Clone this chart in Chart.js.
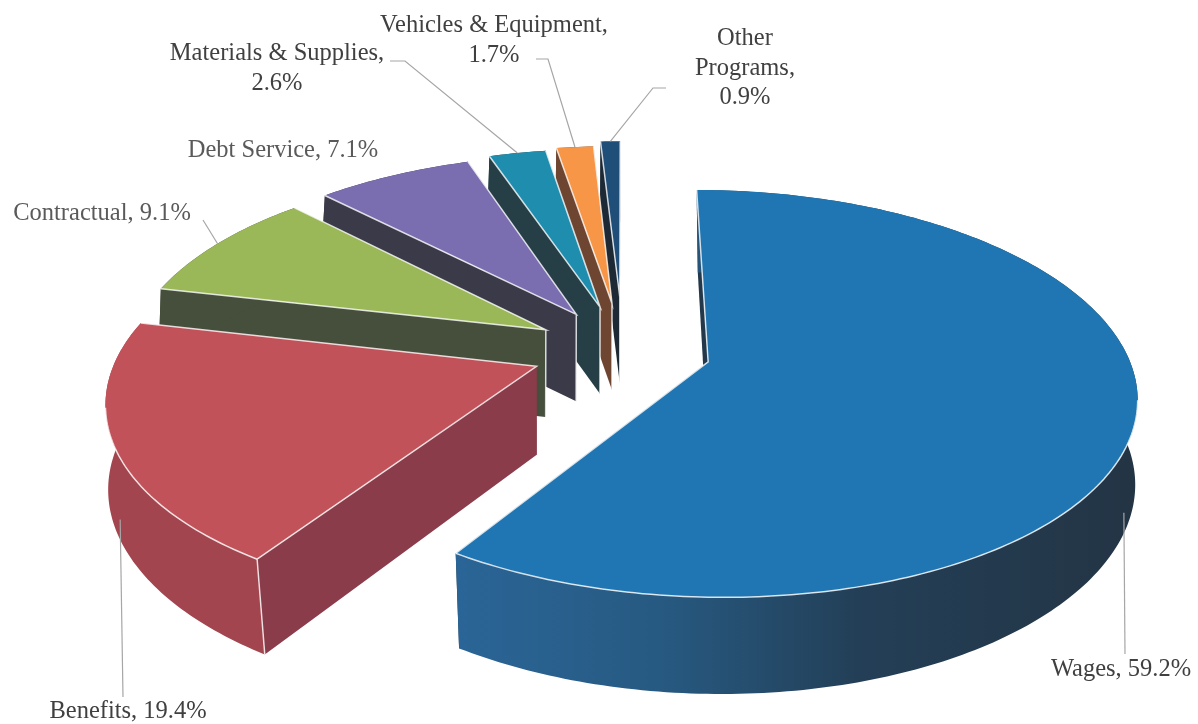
<!DOCTYPE html>
<html>
<head>
<meta charset="utf-8">
<title>Expenses by category</title>
<script src="https://cdn.jsdelivr.net/npm/chart.js@4"></script>
<style>
    html, body { margin: 0; padding: 0; background: #fff; }
    #wrap { width: 1198px; height: 724px; }
</style>
</head>
<body>
<div id="wrap"><canvas id="expenseChart" width="1198" height="724"></canvas></div>
<script>
// Chart data
const categories = ['Wages', 'Benefits', 'Contractual', 'Debt Service', 'Materials & Supplies', 'Vehicles & Equipment', 'Other Programs'];
const percents = [59.2, 19.4, 9.1, 7.1, 2.6, 1.7, 0.9];
const explode = [88, 92, 90, 92, 98, 104, 118];

// Face colours
const topColors = ['#2076b2', '#c2525a', '#9ab858', '#7a6db0', '#1f8dad', '#f79646', '#1f4e79'];
const wallColors = ['#23384a', '#8a3c4a', '#454f3c', '#3a3a48', '#263f47', '#6e4530', '#1d2a35'];
const rimColors = [null, '#a3454f', '#454f3c', '#3a3a48', '#263f47', '#6e4530', '#1d2a35'];

// Perspective settings
const tilt = 0.4665;
const persp = 0.155;
const depth = 88;

// Label text and where it sits
const labelLayout = [
    { lines: ['Wages, 59.2%'], x: 1121, y: 670, color: '#404040', leader: [[1125, 654]], along: 0.53, drop: 0.75 },
    { lines: ['Benefits, 19.4%'], x: 128, y: 712, color: '#404040', leader: [[123, 697]], along: 0.48, drop: 0.75 },
    { lines: ['Contractual, 9.1%'], x: 102, y: 214, color: '#5a5a5a', leader: [[203, 220]], along: 0.5, drop: 0 },
    { lines: ['Debt Service, 7.1%'], x: 283, y: 151, color: '#5a5a5a', leader: null },
    { lines: ['Materials & Supplies,', '2.6%'], x: 277, y: 54, color: '#404040', leader: [[390, 61], [405, 61]], along: 0.5, drop: 0 },
    { lines: ['Vehicles & Equipment,', '1.7%'], x: 494, y: 26, color: '#404040', leader: [[536, 59], [548, 59]], along: 0.5, drop: 0 },
    { lines: ['Other', 'Programs,', '0.9%'], x: 745, y: 39, color: '#404040', leader: [[666, 88], [653, 88]], along: 0.5, drop: 0 }
];

const pie3d = {
    id: 'pie3d',
    beforeDatasetsDraw(chart) {
        const ctx = chart.ctx;
        const arcs = chart.getDatasetMeta(0).data;

        // Back slices first, so the nearer ones cover them
        const order = [6, 5, 4, 3, 2, 1, 0];
        order.forEach(i => drawSlice(ctx, arcs[i], i));
        arcs.forEach((arc, i) => drawLabel(ctx, arc, i));
        return false;
    }
};

function makeProjector(arc) {
    const p = arc.getProps(['x', 'y', 'startAngle', 'endAngle', 'outerRadius'], true);
    const mid = (p.startAngle + p.endAngle) / 2;
    const off = arc.options.offset;
    const ax = Math.cos(mid) * off;
    const ay = Math.sin(mid) * off;
    const R = p.outerRadius;

    function project(px, py) {
        const d = 1 - persp * py / R;
        return { x: p.x + px / d, y: p.y + tilt * py / d };
    }
    return {
        p: p,
        mid: mid,
        apex: project(ax, ay),
        rim: a => project(ax + R * Math.cos(a), ay + R * Math.sin(a)),
        low: pt => {
            const h = depth + 0.035 * (pt.y - p.y);
            const shrink = 1 - 0.02 * (pt.y - p.y) / 200;
            return { x: p.x + (pt.x - p.x) * shrink, y: pt.y + h };
        }
    };
}

function tracePoly(ctx, pts) {
    ctx.beginPath();
    pts.forEach((pt, n) => n === 0 ? ctx.moveTo(pt.x, pt.y) : ctx.lineTo(pt.x, pt.y));
    ctx.closePath();
}

function drawSlice(ctx, arc, i) {
    const pr = makeProjector(arc);
    const start = pr.p.startAngle;
    const end = pr.p.endAngle;
    const steps = Math.max(4, Math.ceil((end - start) * 60));
    const rimPts = [];
    for (let s = 0; s <= steps; s++) {
        rimPts.push(pr.rim(start + (end - start) * s / steps));
    }
    const first = rimPts[0];
    const last = rimPts[steps];

    // Radial walls
    ctx.fillStyle = wallColors[i];
    tracePoly(ctx, [pr.apex, last, pr.low(last), pr.low(pr.apex)]);
    ctx.fill();
    tracePoly(ctx, [pr.apex, first, pr.low(first), pr.low(pr.apex)]);
    ctx.fill();

    // Outer wall
    const band = rimPts.concat(rimPts.slice().reverse().map(pr.low));
    if (rimColors[i]) {
        ctx.fillStyle = rimColors[i];
    } else {
        const grad = ctx.createLinearGradient(last.x, 0, first.x + 430, 0);
        grad.addColorStop(0, '#2a6597');
        grad.addColorStop(0.3, '#275a82');
        grad.addColorStop(0.6, '#233f57');
        grad.addColorStop(1, '#233545');
        ctx.fillStyle = grad;
    }
    tracePoly(ctx, band);
    ctx.fill();

    // Top face
    tracePoly(ctx, [pr.apex].concat(rimPts));
    ctx.fillStyle = topColors[i];
    ctx.fill();

    // Light edges
    ctx.strokeStyle = 'rgba(255,255,255,0.8)';
    ctx.lineWidth = 1.5;
    ctx.beginPath();
    ctx.moveTo(first.x, first.y);
    ctx.lineTo(pr.apex.x, pr.apex.y);
    ctx.lineTo(last.x, last.y);
    if (Math.sin(pr.mid) < 0) {
        ctx.moveTo(pr.apex.x, pr.apex.y);
        ctx.lineTo(pr.low(pr.apex).x, pr.low(pr.apex).y);
    }
    if (Math.sin(start) > 0.05) {
        ctx.moveTo(first.x, first.y);
        ctx.lineTo(pr.low(first).x, pr.low(first).y);
    }
    ctx.stroke();

    // Front part of the rim only
    ctx.beginPath();
    for (let s = 0; s <= steps; s++) {
        const a = start + (end - start) * s / steps;
        const pt = rimPts[s];
        if (Math.sin(a) > 0.2) ctx.lineTo(pt.x, pt.y);
        else ctx.moveTo(pt.x, pt.y);
    }
    ctx.stroke();
}

function drawLabel(ctx, arc, i) {
    const layout = labelLayout[i];
    const pr = makeProjector(arc);
    ctx.fillStyle = layout.color;
    ctx.font = '24.5px "Liberation Serif"';
    ctx.textAlign = 'center';
    ctx.textBaseline = 'middle';
    layout.lines.forEach((line, n) => ctx.fillText(line, layout.x, layout.y + n * 29.5));

    if (!layout.leader) return;

    // Leader line goes from the slice rim to the label
    const a = pr.p.startAngle + (pr.p.endAngle - pr.p.startAngle) * layout.along;
    const pt = pr.rim(a);
    const low = pr.low(pt);
    const from = { x: pt.x + (low.x - pt.x) * layout.drop, y: pt.y + (low.y - pt.y) * layout.drop };
    ctx.strokeStyle = '#a6a6a6';
    ctx.lineWidth = 1.2;
    ctx.beginPath();
    ctx.moveTo(from.x, from.y);
    layout.leader.slice().reverse().forEach(q => ctx.lineTo(q[0], q[1]));
    ctx.stroke();
}

const chart = new Chart(document.getElementById('expenseChart'), {
    type: 'pie',
    data: {
        labels: categories,
        datasets: [{
            data: percents,
            backgroundColor: topColors,
            offset: explode,
            borderWidth: 0
        }]
    },
    options: {
        responsive: false,
        animation: false,
        radius: 418,
        rotation: 0,
        layout: { padding: { left: 48, bottom: 24 } },
        plugins: {
            legend: { display: false },
            tooltip: { enabled: false }
        }
    },
    plugins: [pie3d]
});
</script>
</body>
</html>
